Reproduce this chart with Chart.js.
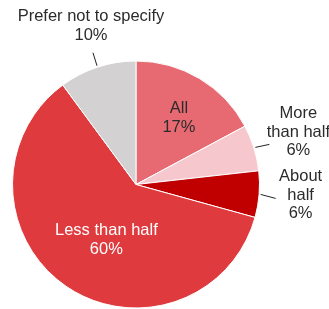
<!DOCTYPE html>
<html>
<head>
<meta charset="utf-8">
<script src="https://cdn.jsdelivr.net/npm/chart.js@4"></script>
<style>
html,body{margin:0;padding:0;background:#fff;}
#wrap{width:329px;height:309px;position:relative;}
</style>
</head>
<body>
<div id="wrap"><canvas id="c" width="329" height="309"></canvas></div>
<script>
const categories = ["All", "More than half", "About half", "Less than half", "Prefer not to specify"];
const values = [17, 6, 6, 60, 10];
const labelLines = [["All", "17%"], ["More", "than half", "6%"], ["About", "half", "6%"], ["Less than half", "60%"], ["Prefer not to specify", "10%"]];
const colors = ["#e76a73", "#f6c8cd", "#c00000", "#df3a3e", "#d3d1d2"];

// label placement (style/position config, separate from data)
const placement = [
  {mode: "in", r: 0.64, shift: 2, color: "#2b2b2b"},
  {mode: "out", line: [14, -3], text: [43, -15], color: "#2b2b2b"},
  {mode: "out", line: [15, 4], text: [40, 1], color: "#2b2b2b"},
  {mode: "in", r: 0.51, shift: -6.5, color: "#fff"},
  {mode: "out", line: [-4, -13], text: [-6, -40], color: "#2b2b2b"}
];

const labelPlugin = {
  id: "sliceLabels",
  afterDatasetsDraw(chart) {
    const ctx = chart.ctx;
    const meta = chart.getDatasetMeta(0);
    ctx.save();
    ctx.font = "16.5px 'Liberation Sans', Arial, sans-serif";
    ctx.textAlign = "center";
    ctx.textBaseline = "middle";
    const lh = 18.5;
    meta.data.forEach((arc, i) => {
      const p = placement[i];
      const a = arc.getProps(["x", "y", "startAngle", "endAngle", "outerRadius"], true);
      let mid = (a.startAngle + a.endAngle) / 2;
      let cx, cy;
      const lines = labelLines[i];
      if (p.mode === "in") {
        mid += (p.shift || 0) * Math.PI / 180;
        cx = a.x + Math.cos(mid) * a.outerRadius * p.r;
        cy = a.y + Math.sin(mid) * a.outerRadius * p.r;
      } else {
        const sx = a.x + Math.cos(mid) * (a.outerRadius + 1.5);
        const sy = a.y + Math.sin(mid) * (a.outerRadius + 1.5);
        ctx.strokeStyle = "#222";
        ctx.lineWidth = 1;
        ctx.beginPath();
        ctx.moveTo(sx, sy);
        ctx.lineTo(sx + p.line[0], sy + p.line[1]);
        ctx.stroke();
        cx = sx + p.text[0];
        cy = sy + p.text[1];
      }
      ctx.fillStyle = p.color;
      const n = lines.length;
      lines.forEach((t, k) => {
        ctx.fillText(t, cx, cy + (k - (n - 1) / 2) * lh);
      });
    });
    ctx.restore();
  }
};

new Chart(document.getElementById("c"), {
  type: "pie",
  data: {
    labels: categories,
    datasets: [{
      data: values,
      backgroundColor: colors,
      borderColor: "#ffffff",
      borderWidth: 1
    }]
  },
  options: {
    responsive: false,
    animation: false,
    events: [],
    layout: {padding: {left: 12, right: 69, top: 60, bottom: 0}},
    plugins: {legend: {display: false}, tooltip: {enabled: false}, title: {display: false}}
  },
  plugins: [labelPlugin]
});
</script>
</body>
</html>
